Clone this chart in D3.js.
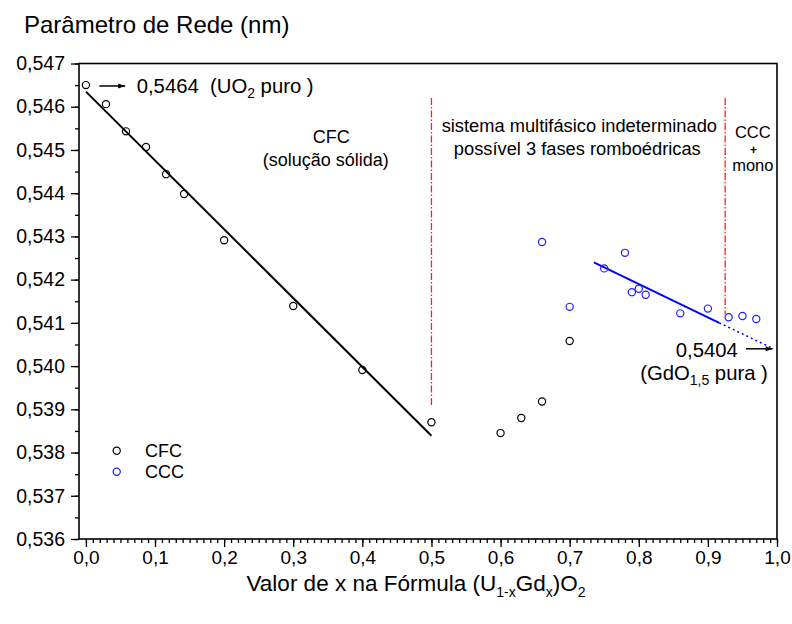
<!DOCTYPE html>
<html><head><meta charset="utf-8">
<script src="https://cdn.jsdelivr.net/npm/d3@7"></script>
<style>
body{margin:0;background:#fff;}
svg{font-family:"Liberation Sans",Arial,sans-serif;}
text{white-space:pre;}
</style></head>
<body>
<svg id="chart" width="792" height="624"></svg>
<script>
// ---- data ----
const cfcX = [0, 0.029, 0.058, 0.087, 0.116, 0.142, 0.2, 0.3, 0.4, 0.5, 0.6, 0.63, 0.66, 0.7];
const cfcY = [0.54650, 0.54606, 0.54543, 0.54507, 0.54444, 0.54398, 0.54291, 0.54139, 0.53991, 0.53870, 0.53845, 0.53880, 0.53918, 0.54058];
const cccX = [0.66, 0.70, 0.75, 0.78, 0.79, 0.80, 0.81, 0.86, 0.90, 0.93, 0.95, 0.97];
const cccY = [0.54287, 0.54137, 0.54226, 0.54262, 0.54171, 0.54179, 0.54165, 0.54122, 0.54133, 0.54113, 0.54116, 0.54109];
const cfcFitX = [0, 0.5];
const cfcFitY = [0.54635, 0.53839];
const cccFitX = [0.735, 0.9164];
const cccFitY = [0.54240, 0.54100];
const cccExtX = [0.9164, 0.995];
const cccExtY = [0.54100, 0.54040];
const boundaryX = [0.5, 0.925];
const boundaryTop = [0.5462, 0.5462];
const boundaryBottom = [0.5391, 0.5412];
const xTicks = [0, 0.1, 0.2, 0.3, 0.4, 0.5, 0.6, 0.7, 0.8, 0.9, 1.0];
const yTicks = [0.536, 0.537, 0.538, 0.539, 0.540, 0.541, 0.542, 0.543, 0.544, 0.545, 0.546, 0.547];
const legendLabels = ["CFC", "CCC"];

// ---- setup ----
const svg = d3.select("#chart");
const L = 79, R = 777, T = 63.5, B = 539;
const x = d3.scaleLinear().domain([-0.01, 1.0]).range([L, R]);
const y = d3.scaleLinear().domain([0.536, 0.547]).range([B, T]);
const comma = f => v => d3.format(f)(v).replace(".", ",");
const blue = "#1f1fff";

// frame
svg.append("rect").attr("x", L).attr("y", T).attr("width", R - L).attr("height", B - T)
  .attr("fill", "none").attr("stroke", "#000").attr("stroke-width", 1.6);

// x axis
const xMinor = d3.range(0, 101).map(i => i / 100);
const gxm = svg.append("g").attr("transform", `translate(0,${B})`)
  .call(d3.axisBottom(x).tickValues(xMinor).tickSize(4).tickFormat(""));
const gx = svg.append("g").attr("transform", `translate(0,${B})`)
  .call(d3.axisBottom(x).tickValues(xTicks).tickSize(8).tickPadding(4).tickFormat(comma(".1f")));
[gxm, gx].forEach(g => { g.select(".domain").remove(); g.selectAll("line").attr("stroke-width", 1.3); });
gx.selectAll("text").attr("font-size", 19).attr("font-family", "Liberation Sans, Arial, sans-serif").attr("fill", "#000");

// y axis
const yMinor = d3.range(0, 23).map(i => 0.536 + i * 0.0005);
const gym = svg.append("g").attr("transform", `translate(${L},0)`)
  .call(d3.axisLeft(y).tickValues(yMinor).tickSize(4).tickFormat(""));
const gy = svg.append("g").attr("transform", `translate(${L},0)`)
  .call(d3.axisLeft(y).tickValues(yTicks).tickSize(8).tickPadding(6).tickFormat(comma(".3f")));
[gym, gy].forEach(g => { g.select(".domain").remove(); g.selectAll("line").attr("stroke-width", 1.3); });
gy.selectAll("text").attr("font-size", 19.5).attr("font-family", "Liberation Sans, Arial, sans-serif").attr("fill", "#000");

// titles
svg.append("text").attr("x", 24).attr("y", 33).attr("font-size", 24).text("Parâmetro de Rede (nm)");
const xt = svg.append("text").attr("x", 416).attr("y", 591).attr("font-size", 22.5).attr("text-anchor", "middle");
xt.append("tspan").text("Valor de x na Fórmula (U");
xt.append("tspan").attr("font-size", 14).attr("dy", 6).text("1-x");
xt.append("tspan").attr("dy", -6).text("Gd");
xt.append("tspan").attr("font-size", 14).attr("dy", 6).text("x");
xt.append("tspan").attr("dy", -6).text(")O");
xt.append("tspan").attr("font-size", 14).attr("dy", 6).text("2");

// boundary lines
svg.append("g").selectAll("line").data(boundaryX).join("line")
  .attr("x1", d => x(d)).attr("x2", d => x(d))
  .attr("y1", (d, i) => y(boundaryTop[i])).attr("y2", (d, i) => y(boundaryBottom[i]))
  .attr("stroke", "#ff2020").attr("stroke-width", 1.3).attr("stroke-dasharray", "7,2,1.5,2");

// fit lines
const line = d3.line().x(d => x(d[0])).y(d => y(d[1]));
svg.append("path").datum(d3.zip(cfcFitX, cfcFitY)).attr("d", line)
  .attr("stroke", "#000").attr("stroke-width", 2).attr("fill", "none");
svg.append("path").datum(d3.zip(cccFitX, cccFitY)).attr("d", line)
  .attr("stroke", "#0000ff").attr("stroke-width", 2).attr("fill", "none");
svg.append("path").datum(d3.zip(cccExtX, cccExtY)).attr("d", line)
  .attr("stroke", "#0000ff").attr("stroke-width", 1.5).attr("fill", "none").attr("stroke-dasharray", "2,3");

// points
svg.append("g").selectAll("circle").data(d3.zip(cfcX, cfcY)).join("circle")
  .attr("cx", d => x(d[0])).attr("cy", d => y(d[1])).attr("r", 3.6)
  .attr("fill", "none").attr("stroke", "#000").attr("stroke-width", 1.2);
svg.append("g").selectAll("circle").data(d3.zip(cccX, cccY)).join("circle")
  .attr("cx", d => x(d[0])).attr("cy", d => y(d[1])).attr("r", 3.6)
  .attr("fill", "none").attr("stroke", blue).attr("stroke-width", 1.2);

// arrows
svg.append("defs").append("marker").attr("id", "ah").attr("viewBox", "0 0 10 10")
  .attr("refX", 10).attr("refY", 5).attr("markerWidth", 11).attr("markerHeight", 7)
  .attr("markerUnits", "userSpaceOnUse").attr("orient", "auto")
  .append("path").attr("d", "M0,1.5 L10,5 L0,8.5 Z").attr("fill", "#000");
const arrows = [[0.0195, 0.0568, 0.54648], [0.955, 0.9937, 0.5404]];
svg.append("g").selectAll("line").data(arrows).join("line")
  .attr("x1", d => x(d[0])).attr("x2", d => x(d[1])).attr("y1", d => y(d[2])).attr("y2", d => y(d[2]))
  .attr("stroke", "#000").attr("stroke-width", 1.5).attr("marker-end", "url(#ah)");

// annotations
const a1 = svg.append("text").attr("x", x(0.0735)).attr("y", y(0.54648) + 7).attr("font-size", 20.3);
a1.append("tspan").text("0,5464  (UO");
a1.append("tspan").attr("font-size", 14).attr("dy", 5).text("2");
a1.append("tspan").attr("dy", -5).text(" puro )");

svg.append("text").attr("x", x(0.955) - 8).attr("y", y(0.5404) + 8).attr("font-size", 20.3)
  .attr("text-anchor", "end").text("0,5404");
const a2 = svg.append("text").attr("x", x(0.802)).attr("y", y(0.5404) + 31).attr("font-size", 20.3);
a2.append("tspan").text("(GdO");
a2.append("tspan").attr("font-size", 14).attr("dy", 5).text("1,5");
a2.append("tspan").attr("dy", -5).text(" pura )");

const regionText = [
  {t: "CFC", cx: 0.355, yy: 143, fs: 18},
  {t: "(solução sólida)", cx: 0.347, yy: 166, fs: 18},
  {t: "sistema multifásico indeterminado", cx: 0.714, yy: 132, fs: 18.3},
  {t: "possível 3 fases romboédricas", cx: 0.711, yy: 155, fs: 18.3},
  {t: "CCC", cx: 0.965, yy: 138, fs: 16.5},
  {t: "+", cx: 0.966, yy: 154, fs: 12},
  {t: "mono", cx: 0.965, yy: 171, fs: 16.5}
];
svg.append("g").selectAll("text").data(regionText).join("text")
  .attr("x", d => x(d.cx)).attr("y", d => d.yy).attr("font-size", d => d.fs)
  .attr("font-weight", d => d.t === "+" ? "bold" : "normal")
  .attr("text-anchor", "middle").text(d => d.t);

// legend
const lg = svg.append("g");
lg.selectAll("circle").data(legendLabels).join("circle")
  .attr("cx", 116.7).attr("cy", (d, i) => 450.7 + i * 21).attr("r", 3.6).attr("fill", "none")
  .attr("stroke", (d, i) => i ? blue : "#000").attr("stroke-width", 1.2);
lg.selectAll("text").data(legendLabels).join("text")
  .attr("x", 145).attr("y", (d, i) => 457 + i * 21).attr("font-size", 18).text(d => d);
</script>
</body></html>
